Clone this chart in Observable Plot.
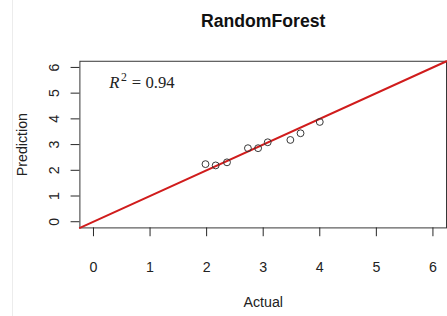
<!DOCTYPE html>
<html><head><meta charset="utf-8">
<script src="https://cdn.jsdelivr.net/npm/d3@7"></script>
<script src="https://cdn.jsdelivr.net/npm/@observablehq/plot@0.6"></script>
<style>
body{margin:0;background:#fff;overflow:hidden;width:447px;height:316px;position:relative}
#edge{position:absolute;left:12px;top:0;width:1px;height:316px;background:#ececec}
#c{position:absolute;left:0;top:0}
</style>
</head><body><div id="edge"></div><div id="c"></div>
<script>
const actual    = [1.98, 2.16, 2.36, 2.73, 2.91, 3.08, 3.48, 3.66, 4.00];
const predicted = [2.24, 2.19, 2.31, 2.86, 2.86, 3.09, 3.18, 3.44, 3.88];
const xTicks = [0, 1, 2, 3, 4, 5, 6];
const yTicks = [0, 1, 2, 3, 4, 5, 6];
const r2Label = "0.94";
const chartTitle = "RandomForest";
const xLabel = "Actual";
const yLabel = "Prediction";

const dom = [-0.24, 6.24];
const pts = actual.map((a, i) => ({actual: a, pred: predicted[i]}));
const refLine = dom.map(v => ({x: v, y: v}));
const sans = "'Liberation Sans Narrow','Arial Narrow','Liberation Sans',Arial,sans-serif";
const serif = "'Liberation Serif','DejaVu Serif',serif";

const chart = Plot.plot({
  width: 456, height: 316,
  marginLeft: 81, marginRight: 1, marginTop: 62, marginBottom: 84,
  style: {fontFamily: sans, fontSize: "14px", color: "#222", background: "transparent"},
  x: {domain: dom},
  y: {domain: dom},
  marks: [
    Plot.frame({stroke: "#333", strokeWidth: 1}),
    Plot.axisX({ticks: xTicks, tickFormat: "d", tickSize: 9, tickPadding: 26, fontSize: 14.5,
      label: xLabel, labelAnchor: "center", labelOffset: 81, labelArrow: "none"}),
    Plot.axisY({ticks: yTicks, tickFormat: "d", tickSize: 9, tickPadding: 12, tickRotate: -90, fontSize: 14.5,
      label: yLabel, labelAnchor: "center", labelOffset: 64, labelArrow: "none"}),
    Plot.line(refLine, {x: "x", y: "y", stroke: "#d01c1c", strokeWidth: 2}),
    Plot.dot(pts, {x: "actual", y: "pred", r: 3.5, stroke: "#333", strokeWidth: 1, fill: "none"}),
    Plot.text([chartTitle], {frameAnchor: "top", dy: -41, lineAnchor: "middle", text: d => d,
      fontSize: 18, fontWeight: "bold", fill: "#111"}),
    Plot.text(["R"], {frameAnchor: "top-left", dx: 30, dy: 22, text: d => d, textAnchor: "start",
      lineAnchor: "middle", fontFamily: serif, fontStyle: "italic", fontSize: 17, fill: "#222"}),
    Plot.text(["2"], {frameAnchor: "top-left", dx: 42, dy: 16, text: d => d, textAnchor: "start",
      lineAnchor: "middle", fontFamily: serif, fontSize: 12, fill: "#222"}),
    Plot.text(["= " + r2Label], {frameAnchor: "top-left", dx: 53, dy: 22, text: d => d, textAnchor: "start",
      lineAnchor: "middle", fontFamily: serif, fontSize: 17, fill: "#222"})
  ]
});
document.getElementById("c").appendChild(chart);
</script>
</body></html>
